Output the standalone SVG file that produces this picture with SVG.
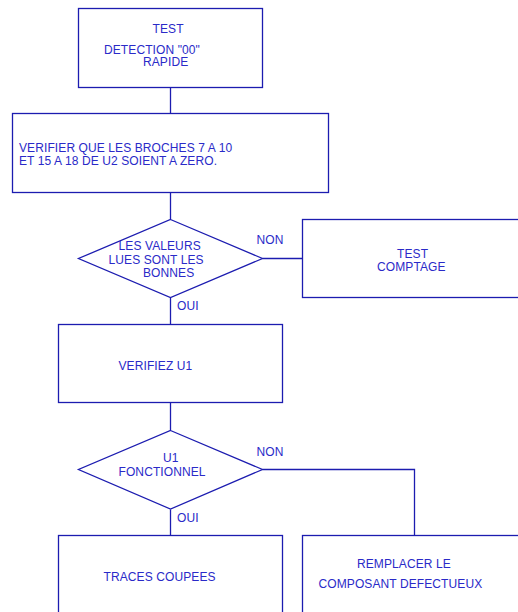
<svg xmlns="http://www.w3.org/2000/svg" width="518" height="612" viewBox="0 0 518 612">
  <style>
    .shape { fill: #ffffff; stroke: #1c1cb0; stroke-width: 1.3; }
    .wire { fill: none; stroke: #1c1cb0; stroke-width: 1.3; }
    text { font-family: "Liberation Sans", Arial, sans-serif; font-size: 12px; letter-spacing: 0.1px; fill: #2a2ac8; }
  </style>
  <rect width="518" height="612" fill="#ffffff"/>

  <g id="connectors">
    <line class="wire" x1="170.5" y1="87" x2="170.5" y2="113"/>
    <line class="wire" x1="170.5" y1="192" x2="170.5" y2="219"/>
    <line class="wire" x1="262.5" y1="258.5" x2="302" y2="258.5"/>
    <line class="wire" x1="170.5" y1="298" x2="170.5" y2="325"/>
    <line class="wire" x1="170.5" y1="403" x2="170.5" y2="430"/>
    <polyline class="wire" points="262.5,469.5 414.5,469.5 414.5,535.5"/>
    <line class="wire" x1="170.5" y1="509.5" x2="170.5" y2="535.5"/>
    <text x="256.5" y="244">NON</text>
    <text x="177" y="310">OUI</text>
    <text x="256.5" y="455.5">NON</text>
    <text x="177" y="521.5">OUI</text>
  </g>

  <g id="test-detection">
    <rect class="shape" x="78.5" y="8.5" width="184" height="79"/>
    <text x="152.5" y="33">TEST</text>
    <text x="104" y="53.5">DETECTION "00"</text>
    <text x="143" y="66">RAPIDE</text>
  </g>

  <g id="verifier-broches">
    <rect class="shape" x="12.5" y="113.5" width="316" height="79"/>
    <text x="19" y="152">VERIFIER QUE LES BROCHES 7 A 10</text>
    <text x="19" y="165">ET 15 A 18 DE U2 SOIENT A ZERO.</text>
  </g>

  <g id="valeurs-bonnes">
    <polygon class="shape" points="170.5,219.5 262.5,258.5 170.5,297.5 78.5,258.5"/>
    <text x="118.5" y="249.5">LES VALEURS</text>
    <text x="108.5" y="264">LUES SONT LES</text>
    <text x="143" y="277">BONNES</text>
  </g>

  <g id="test-comptage">
    <rect class="shape" x="302.5" y="219.5" width="230" height="78"/>
    <text x="397" y="257.5">TEST</text>
    <text x="377" y="271">COMPTAGE</text>
  </g>

  <g id="verifiez-u1">
    <rect class="shape" x="58.5" y="324.5" width="224" height="78"/>
    <text x="118.5" y="370">VERIFIEZ U1</text>
  </g>

  <g id="u1-fonctionnel">
    <polygon class="shape" points="170.5,430.5 262.5,469.5 170.5,509 78.5,469.5"/>
    <text x="163" y="462">U1</text>
    <text x="118.5" y="475.5">FONCTIONNEL</text>
  </g>

  <g id="traces-coupees">
    <rect class="shape" x="58.5" y="535.5" width="224" height="90"/>
    <text x="103.5" y="580.5">TRACES COUPEES</text>
  </g>

  <g id="remplacer-composant">
    <rect class="shape" x="302.5" y="535.5" width="230" height="90"/>
    <text x="357" y="567.5">REMPLACER LE</text>
    <text x="318.5" y="587.5">COMPOSANT DEFECTUEUX</text>
  </g>
</svg>
